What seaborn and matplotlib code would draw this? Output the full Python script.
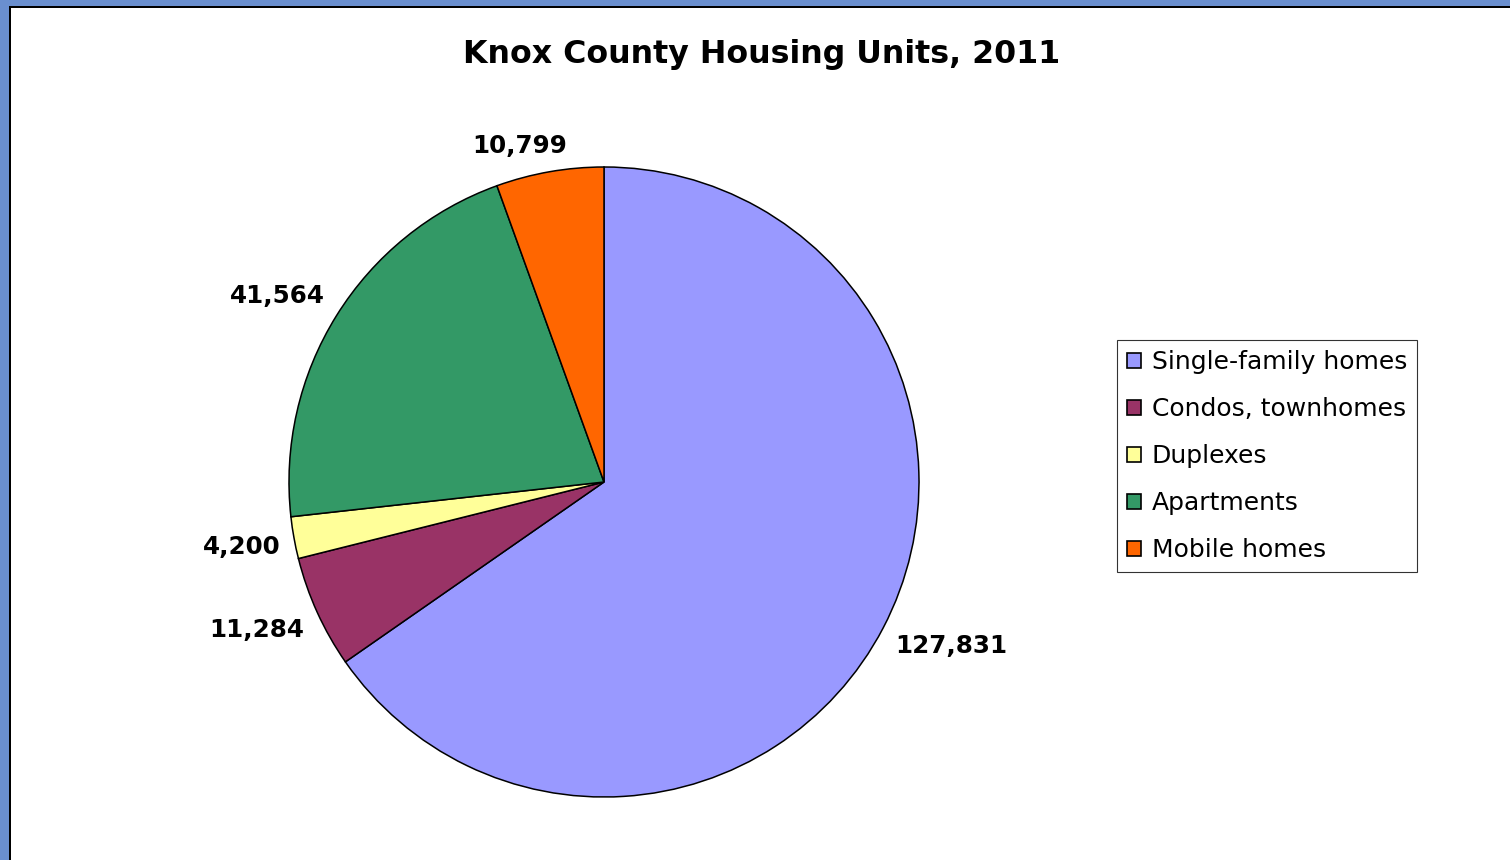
import numpy as np
import matplotlib
matplotlib.use("Agg")
import matplotlib.pyplot as plt
from matplotlib.patches import Rectangle, Patch
import seaborn as sns

# Housing unit counts by structure type
categories = ["Single-family homes", "Condos, townhomes", "Duplexes", "Apartments", "Mobile homes"]
units = [127831, 11284, 4200, 41564, 10799]
slice_colors = ["#9999FF", "#993366", "#FFFF99", "#339966", "#FF6600"]
title = "Knox County Housing Units, 2011"

sns.set_theme(style="white")
plt.rcParams["font.family"] = ["DejaVu Sans"]
plt.rcParams["text.color"] = "black"

W, H, DPI = 1510, 860, 100
fig = plt.figure(figsize=(W / DPI, H / DPI), dpi=DPI, facecolor="white")

# Blue window frame along the top and left edges, with a thin dark rule inside
frame_blue = "#6A8FCF"
fig.patches.append(Rectangle((0, 0), 9 / W, 1, transform=fig.transFigure,
                             facecolor=frame_blue, edgecolor="none", zorder=0))
fig.patches.append(Rectangle((0, 1 - 6 / H), 1, 6 / H, transform=fig.transFigure,
                             facecolor=frame_blue, edgecolor="none", zorder=0))
fig.patches.append(Rectangle((9 / W, 0), 1.5 / W, 1 - 6 / H, transform=fig.transFigure,
                             facecolor="black", edgecolor="none", zorder=1))
fig.patches.append(Rectangle((9 / W, 1 - 7.5 / H), 1 - 9 / W, 1.5 / H, transform=fig.transFigure,
                             facecolor="black", edgecolor="none", zorder=1))

# Pie axes: centre (604, 482) px, radius 315 px; default pie limits are +-1.25
cx, cy, R = 604, 482, 315
side = 2 * 1.25 * R
ax = fig.add_axes([(cx - side / 2) / W, (H - cy - side / 2) / H, side / W, side / H])

wedges, _ = ax.pie(units, colors=slice_colors, startangle=90, counterclock=False,
                   wedgeprops=dict(edgecolor="black", linewidth=1.1))
ax.set_aspect("equal")

fig.text(762 / W, 1 - 55 / H, title, ha="center", va="center",
         fontsize=22.8, fontweight="bold", color="black")

# Value labels: the box corner nearest the pie sits just outside the rim
fig.canvas.draw()
renderer = fig.canvas.get_renderer()
origin_px = ax.transData.transform((0, 0))
r_px = ax.transData.transform((1, 0))[0] - origin_px[0]
gap = 14
for w, v in zip(wedges, units):
    ang = np.deg2rad((w.theta1 + w.theta2) / 2)
    c, s = np.cos(ang), np.sin(ang)
    t = ax.text(0, 0, f"{v:,}", ha="center", va="center", fontsize=17.7,
                fontweight="bold", color="black")
    bb = t.get_window_extent(renderer)
    fx = np.clip(c / 0.3, -1, 1)
    fy = np.clip(s / 0.3, -1, 1)
    px = origin_px[0] + (r_px + gap) * c + bb.width / 2 * fx
    py = origin_px[1] + (r_px + gap) * s + bb.height / 2 * fy
    t.set_position(ax.transData.inverted().transform((px, py)))

handles = [Patch(facecolor=col, edgecolor="black", linewidth=1.2) for col in slice_colors]
leg = fig.legend(handles, categories, loc="center left",
                 bbox_to_anchor=(1117 / W, 1 - 456 / H), bbox_transform=fig.transFigure,
                 fontsize=18, frameon=True, fancybox=False, shadow=False,
                 handlelength=0.55, handleheight=0.55, handletextpad=0.45,
                 labelspacing=0.92, borderpad=0.4, borderaxespad=0)
leg.get_frame().set_edgecolor("black")
leg.get_frame().set_linewidth(0.8)
for txt in leg.get_texts():
    txt.set_color("black")

fig.savefig("out.png", dpi=DPI, facecolor="white")
